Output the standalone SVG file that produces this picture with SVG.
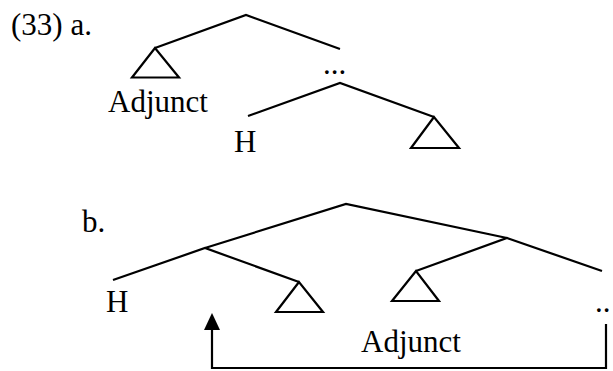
<svg xmlns="http://www.w3.org/2000/svg" width="613" height="371" viewBox="0 0 613 371">
<defs>
<style>
.t{font-family:"Liberation Serif","Times New Roman",serif;font-size:31px;fill:#000}
.l{stroke:#000;stroke-width:2.2;fill:none;stroke-linecap:butt;stroke-linejoin:miter}
</style>
<marker id="ah" markerWidth="16" markerHeight="16" refX="8" refY="1" orient="auto-start-reverse" markerUnits="userSpaceOnUse" viewBox="0 0 16 16">
<path d="M1,15 L8,0 L15,15 Z" fill="#000"/>
</marker>
</defs>
<rect width="613" height="371" fill="#fff"/>
<g id="labels">
<text class="t" x="11" y="35">(33) a.</text>
<text class="t" x="82" y="232">b.</text>
</g>
<g id="connectors">
<polyline class="l" points="155,48 246,15 340,49"/>
<polyline class="l" points="248,116 340,83 434,117"/>
<polyline class="l" points="205,248 346,204 507,238"/>
<polyline class="l" points="113,280 205,248 299,282"/>
<polyline class="l" points="416,271 507,238 602,271"/>
<path class="l" d="M606,324 V368 H212 V330"/>
<path d="M204,330 L212,313 L220,330 Z" fill="#000"/>
</g>
<g id="a-adjunct">
<polygon class="l" points="155,48 132,77.5 179,77.5"/>
<text class="t" x="108" y="112">Adjunct</text>
</g>
<g id="a-dots">
<text class="t" x="323" y="74">...</text>
</g>
<g id="a-H">
<text class="t" x="234" y="152">H</text>
</g>
<g id="a-tri">
<polygon class="l" points="434,117 411,148 459,148"/>
</g>
<g id="b-H">
<text class="t" x="106" y="312">H</text>
</g>
<g id="b-tri1">
<polygon class="l" points="299,282 276,312 323,312"/>
</g>
<g id="b-tri2">
<polygon class="l" points="416,271 392,301 439,301"/>
</g>
<g id="b-dots">
<text class="t" x="595" y="312">..</text>
</g>
<g id="b-adjunct">
<text class="t" x="361" y="352">Adjunct</text>
</g>
</svg>
